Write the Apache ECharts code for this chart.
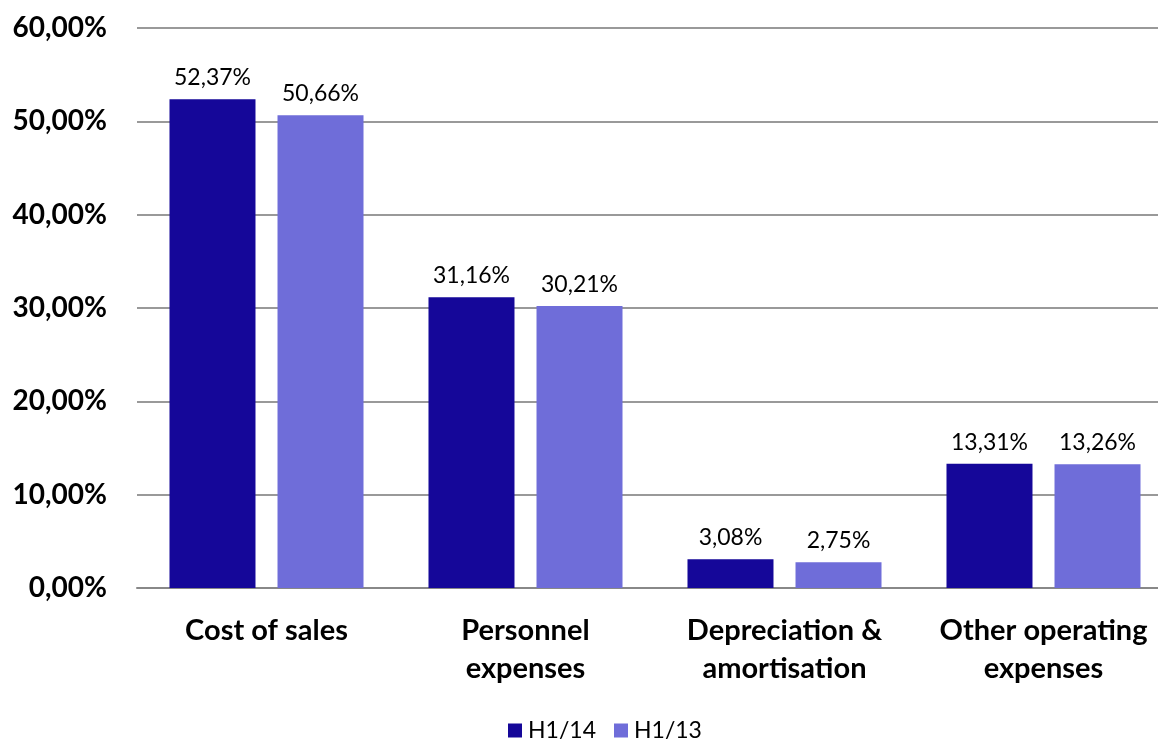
<!DOCTYPE html>
<html><head><meta charset="utf-8">
<script src="https://cdn.jsdelivr.net/npm/echarts@6/dist/echarts.min.js"></script>
<style>html,body{margin:0;padding:0;background:#fff}#c{width:1158px;height:747px}</style>
</head><body><div id="c"></div>
<script>
const categories = ['Cost of sales', 'Personnel\nexpenses', 'Depreciation &\namortisation', 'Other operating\nexpenses'];
const h114 = [52.37, 31.16, 3.08, 13.31];
const h113 = [50.66, 30.21, 2.75, 13.26];
const seriesNames = ['H1/14', 'H1/13'];
const fmt = v => v.toFixed(2).replace('.', ',') + '%';
const font = 'Lato, "Open Sans", sans-serif';
const chart = echarts.init(document.getElementById('c'));
const lbl = {show: true, position: 'top', distance: 10, fontFamily: font, fontSize: 23, color: '#000', formatter: p => fmt(p.value)};
chart.setOption({
  animation: false,
  grid: {left: 137, width: 1036, top: 28, height: 560, outerBoundsMode: 'none', containLabel: false},
  legend: {bottom: 0, left: 503, itemWidth: 14, itemHeight: 14, itemGap: 18, icon: 'rect',
    textStyle: {fontFamily: font, fontSize: 23, color: '#000', padding: [0, 0, 0, 1]}, data: seriesNames},
  xAxis: {type: 'category', data: categories,
    axisLine: {lineStyle: {color: '#888', width: 2}}, axisTick: {show: false},
    axisLabel: {interval: 0, fontFamily: font, fontWeight: 'bold', fontSize: 29, color: '#000', margin: 24, lineHeight: 38}},
  yAxis: {type: 'value', min: 0, max: 60, interval: 10,
    axisLabel: {fontFamily: font, fontWeight: 'bold', fontSize: 28, color: '#000', margin: 30, formatter: v => v.toFixed(2).replace('.', ',') + '%'},
    splitLine: {lineStyle: {color: '#999', width: 2}}, axisLine: {show: false}, axisTick: {show: false}},
  series: [
    {name: seriesNames[0], type: 'bar', data: h114, barWidth: 86, barGap: '25.6%', itemStyle: {color: '#150799'}, label: lbl},
    {name: seriesNames[1], type: 'bar', data: h113, barWidth: 86, itemStyle: {color: '#6f6dd9'}, label: lbl}
  ]
});
</script></body></html>
